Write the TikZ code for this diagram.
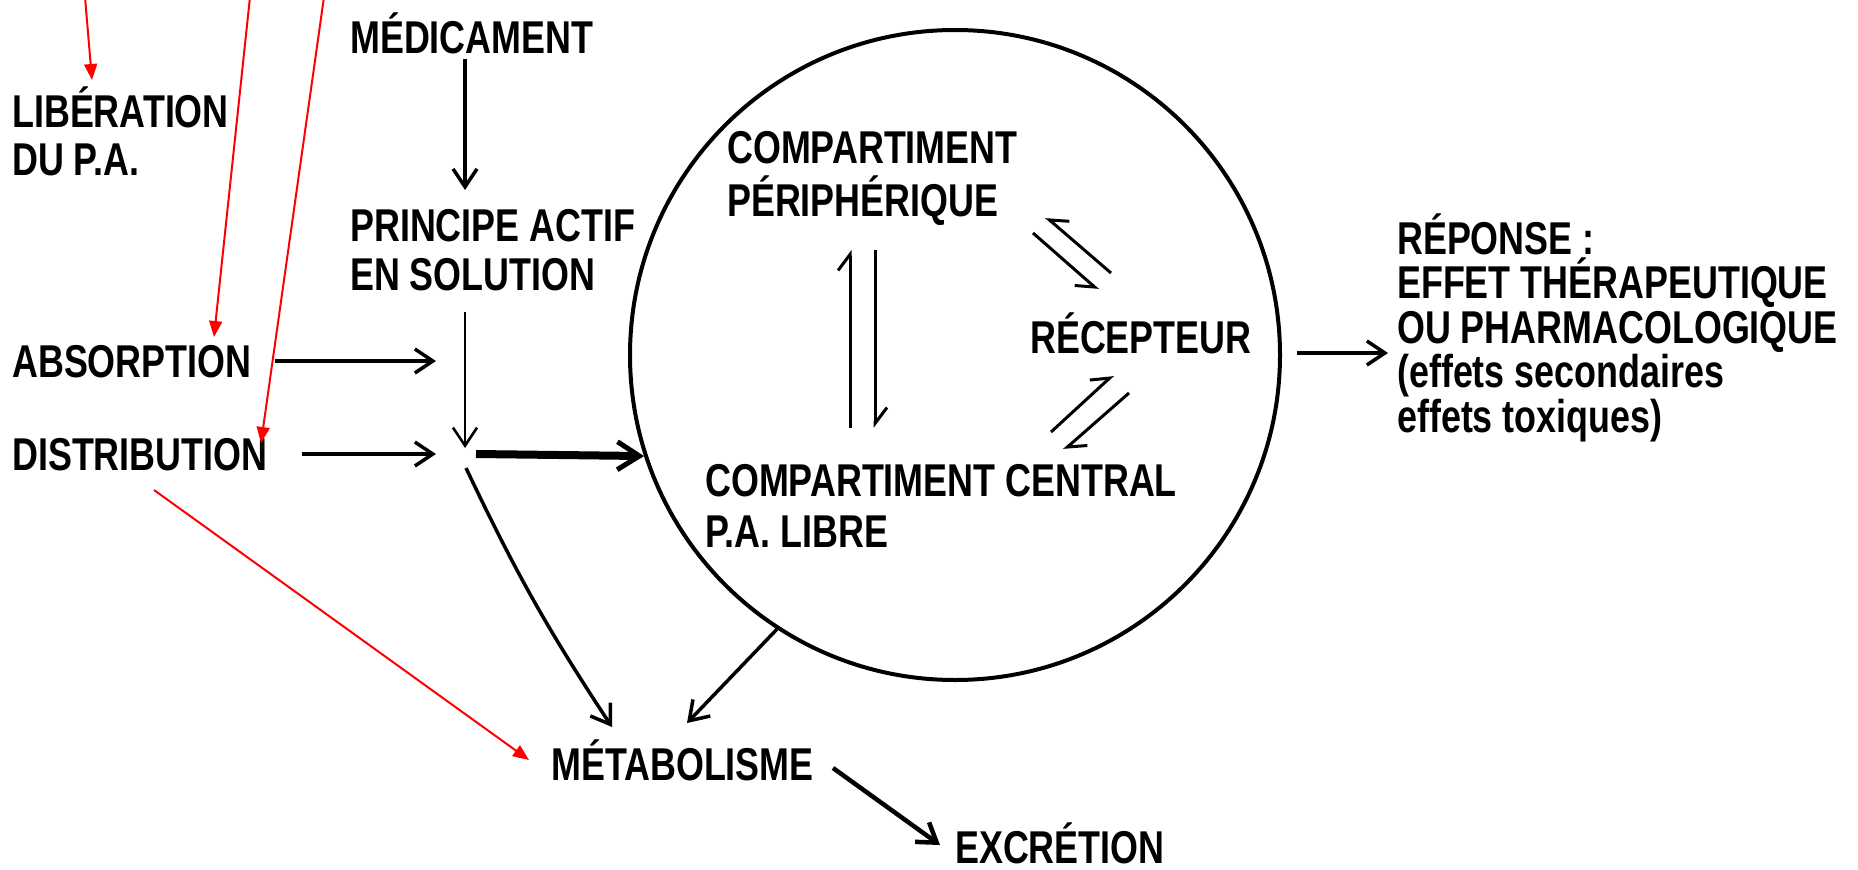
\documentclass[tikz,border=0pt]{standalone}
\usepackage{fontspec}
\newfontfamily\dfont{Liberation Sans}[FakeStretch=0.78]
\newcommand\txtfont[1]{\dfont\bfseries\fontsize{46}{#1}\selectfont\lineskiplimit -60pt\relax}
\usetikzlibrary{arrows.meta}
\tikzset{
  lbl/.style={inner sep=0pt, anchor=base west, align=left, font={\txtfont{48}}},
  arr/.style={line width=3.5pt, -{Straight Barb[length=18pt,width=24pt]}},
  harp/.style={line width=3pt, -{Straight Barb[harpoon,length=16pt,width=24pt]}},
  harps/.style={line width=3pt, -{Straight Barb[harpoon,swap,length=16pt,width=24pt]}},
  redarr/.style={draw=red, line width=2pt, -{Triangle[length=16pt,width=13pt,fill=red]}},
  ring/.style={draw, circle, line width=4pt, minimum size=650pt, inner sep=0pt}
}
\begin{document}
\begin{tikzpicture}[x=1pt,y=-1pt]
\useasboundingbox (0,0) rectangle (1858,870);
% nodes (multi-line nodes are placed at the baseline of their last line)
\node[lbl] (lib) at (12,175) {LIBÉRATION\\DU P.A.};
\node[lbl] (med) at (350,53) {MÉDICAMENT};
\node[lbl, font={\txtfont{49}}] (pa) at (350,290) {PRINCIPE ACTIF\\EN SOLUTION};
\node[lbl] (abs) at (12,377) {ABSORPTION};
\node[lbl] (dist) at (12,470) {DISTRIBUTION};
\node[ring] (circ) at (955,355) {};
\node[lbl, font={\txtfont{53}}] (cp) at (727,216) {COMPARTIMENT\\PÉRIPHÉRIQUE};
\node[lbl] (rec) at (1030,353) {RÉCEPTEUR};
\node[lbl, font={\txtfont{51}}] (cc) at (705,547) {COMPARTIMENT CENTRAL\\P.A. LIBRE};
\node[lbl, font={\txtfont{44.5}}] (rep) at (1397,432) {RÉPONSE :\\EFFET THÉRAPEUTIQUE\\OU PHARMACOLOGIQUE\\(effets secondaires\\effets toxiques)};
\node[lbl] (met) at (551,780) {MÉTABOLISME};
\node[lbl] (exc) at (955,863) {EXCRÉTION};
% connector end points
\coordinate (j) at (465,454);
\coordinate (m0) at (465,59);  \coordinate (m1) at (465,190);
\coordinate (s0) at (465,312); \coordinate (s1) at (465,448);
\coordinate (a0) at (275,361); \coordinate (a1) at (436,361);
\coordinate (d0) at (302,454); \coordinate (d1) at (436,454);
\coordinate (j1) at (476,454);
\coordinate (j2) at (466,468); \coordinate (mt1) at (612,727);
\coordinate (mt2) at (687,723);
\coordinate (e0) at (833,768); \coordinate (e1) at (940,845);
\coordinate (r0) at (1297,353); \coordinate (r1) at (1388,353);
\coordinate (v1) at (850,428); \coordinate (v2) at (850,250);
\coordinate (v3) at (875,250); \coordinate (v4) at (875,428);
\coordinate (u1) at (1033,233); \coordinate (u2) at (1098,290);
\coordinate (u3) at (1111,273); \coordinate (u4) at (1046,217);
\coordinate (l1) at (1051,432); \coordinate (l2) at (1113,375);
\coordinate (l3) at (1129,393); \coordinate (l4) at (1064,450);
\coordinate (R1) at (85,-3);   \coordinate (R1t) at (92,80);
\coordinate (R2) at (250,-3);  \coordinate (R2t) at (214,337);
\coordinate (R3) at (324,-3);  \coordinate (R3t) at (261,443);
\coordinate (R4) at (154,490); \coordinate (R4t) at (529,760);
% black connectors
\draw[arr] (m0) -- (m1);
\draw[arr, line width=2.6pt] (s0) -- (s1);
\draw[arr] (a0) -- (a1);
\draw[arr] (d0) -- (d1);
\draw[line width=8pt, -{Straight Barb[length=22pt,width=28pt,line width=5pt]}] (j1) -- (circ.198);
\draw[arr] (j2) to[bend right=4] (mt1);
\draw[arr] (circ.237) -- (mt2);
\draw[arr, line width=4.5pt] (e0) -- (e1);
\draw[arr] (r0) -- (r1);
% equilibria
\draw[harp] (v1) -- (v2);
\draw[harp] (v3) -- (v4);
\draw[harps] (u1) -- (u2);
\draw[harps] (u3) -- (u4);
\draw[harp] (l1) -- (l2);
\draw[harp] (l3) -- (l4);
% red annotations
\draw[redarr] (R1) -- (R1t);
\draw[redarr] (R2) -- (R2t);
\draw[redarr] (R3) -- (R3t);
\draw[redarr] (R4) -- (R4t);
\end{tikzpicture}
\end{document}
